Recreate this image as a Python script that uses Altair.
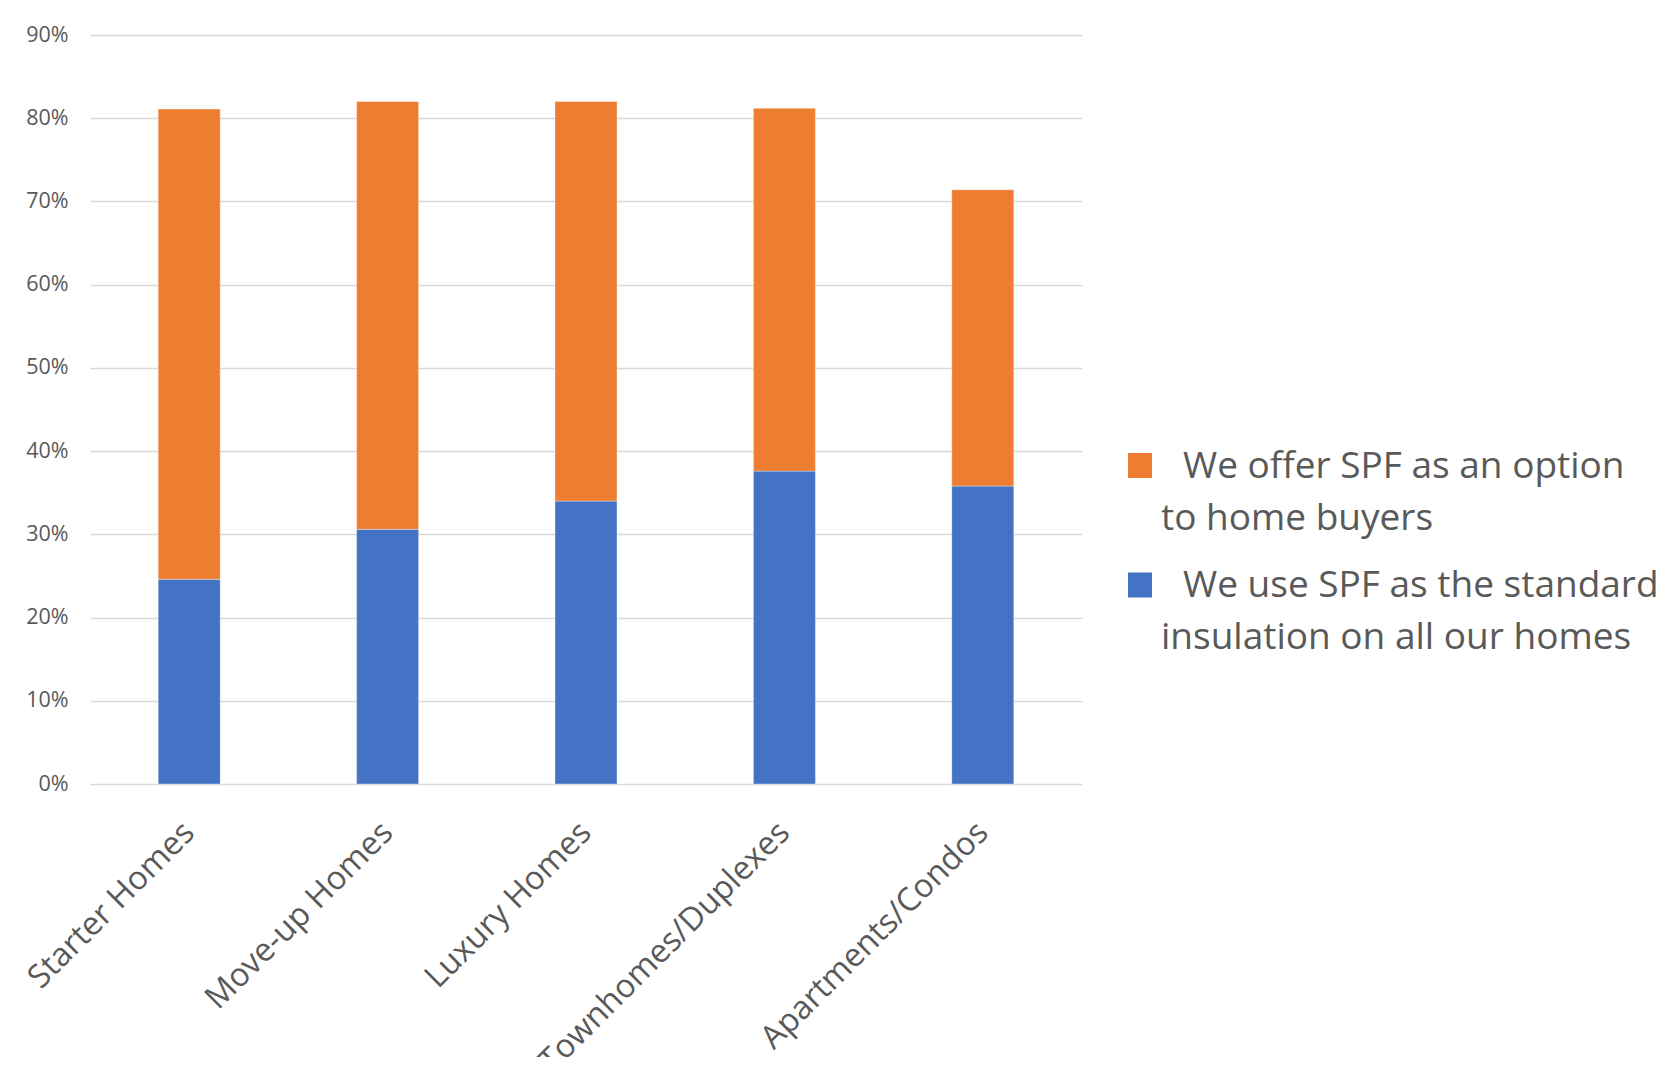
import altair as alt
import pandas as pd

categories = ["Starter Homes", "Move-up Homes", "Luxury Homes", "Townhomes/Duplexes", "Apartments/Condos"]
use_standard = [24.6, 30.6, 34.0, 37.6, 35.8]
offer_option = [56.5, 51.4, 48.0, 43.6, 35.6]
series = ["We offer SPF as an option to home buyers",
          "We use SPF as the standard insulation on all our homes"]
legend_line1 = ["We offer SPF as an option", "We use SPF as the standard"]
legend_line2 = ["to home buyers", "insulation on all our homes"]
colors = ["#ED7D31", "#4472C4"]
y_ticks = [0, 0.1, 0.2, 0.3, 0.4, 0.5, 0.6, 0.7, 0.8, 0.9]

rows = []
for c, u, o in zip(categories, use_standard, offer_option):
    rows.append({"category": c, "series": series[1], "value": u / 100, "stack_order": 0})
    rows.append({"category": c, "series": series[0], "value": o / 100, "stack_order": 1})
df = pd.DataFrame(rows)

FONT = "Open Sans"
GREY = "#595959"

bars = alt.Chart(df).mark_bar(stroke="white", strokeWidth=0.6, strokeOpacity=0.6).encode(
    x=alt.X("category:N", sort=categories, title=None,
            scale=alt.Scale(paddingInner=0.6875, paddingOuter=0.34375),
            axis=alt.Axis(labelAngle=-45, labelAlign="right", labelBaseline="middle",
                          labelPadding=43, ticks=False, tickSize=0, domain=False,
                          labelFont=FONT, labelFontSize=32.5, labelColor=GREY,
                          labelLimit=600)),
    y=alt.Y("value:Q", stack="zero", title=None,
            scale=alt.Scale(domain=[0, 0.9], nice=False),
            axis=alt.Axis(values=y_ticks, format=".0%", ticks=False, tickSize=0, domain=False,
                          labelFont=FONT, labelFontSize=21.5, labelColor=GREY, labelPadding=22,
                          gridColor="#d9d9d9", gridWidth=1.5)),
    color=alt.Color("series:N", scale=alt.Scale(domain=series, range=colors), legend=None),
    order=alt.Order("stack_order:Q", sort="ascending"),
)

leg_df = pd.DataFrame({"series": series, "line1": legend_line1, "line2": legend_line2})

def legend_entry(i, sq_y, txt_y):
    d = leg_df.iloc[[i]]
    sq = alt.Chart(d).mark_rect(color=colors[i]).encode(
        x=alt.value(1038), x2=alt.value(1062),
        y=alt.value(sq_y - 12.5), y2=alt.value(sq_y + 12.5))
    t1 = alt.Chart(d).mark_text(align="left", baseline="alphabetic", font=FONT, fontSize=37,
                                color=GREY).encode(
        x=alt.value(1093), y=alt.value(txt_y), text="line1:N")
    t2 = alt.Chart(d).mark_text(align="left", baseline="alphabetic", font=FONT, fontSize=37,
                                color=GREY).encode(
        x=alt.value(1071), y=alt.value(txt_y + 52), text="line2:N")
    return sq + t1 + t2

chart = alt.layer(
    bars,
    legend_entry(0, 430.5, 443),
    legend_entry(1, 550, 562),
).properties(
    width=992, height=749,
    autosize=alt.AutoSizeParams(type="none"),
    padding={"left": 82, "top": 27, "right": 579, "bottom": 273},
    background="white",
).configure_view(stroke=None)

chart.save("out.html", embed_options={"renderer": "svg", "actions": False})
